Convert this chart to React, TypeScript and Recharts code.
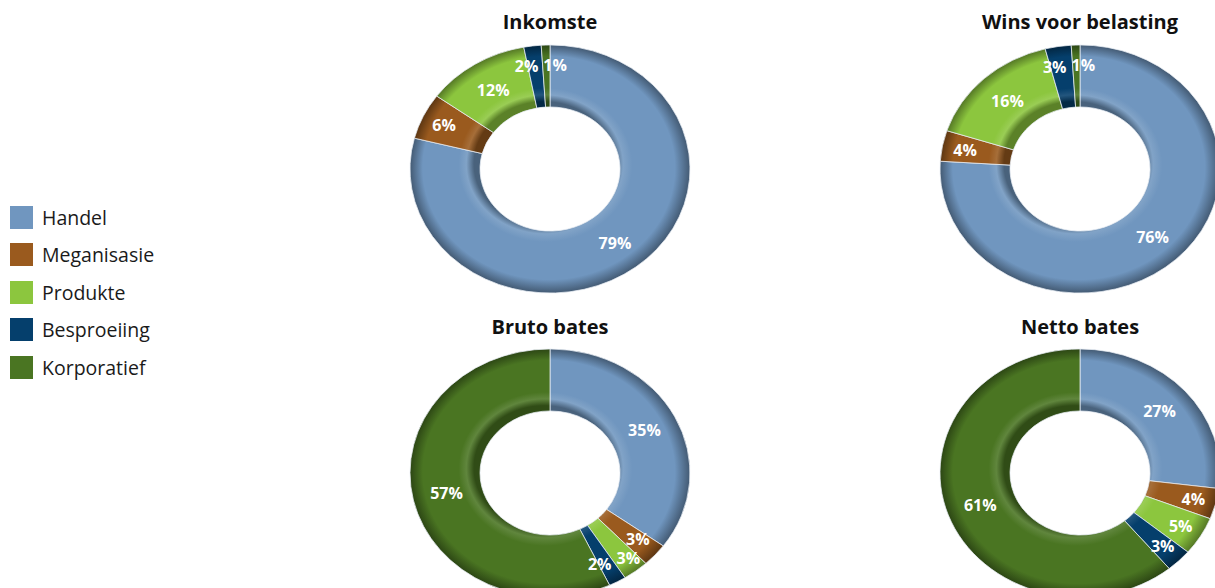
import React from "react";
import { PieChart, Pie, Cell } from "recharts";

const CATEGORIES = ["Handel", "Meganisasie", "Produkte", "Besproeiing", "Korporatief"];
const COLORS = ["#7096bf", "#9a5a1e", "#8cc63e", "#053f6c", "#4a7522"];

const TITLES = ["Inkomste", "Wins voor belasting", "Bruto bates", "Netto bates"];
const INKOMSTE = [79, 6, 12, 2, 1];
const WINS = [76, 4, 16, 3, 1];
const BRUTO = [35, 3, 3, 2, 57];
const NETTO = [27, 4, 5, 3, 61];

const SERIES = [INKOMSTE, WINS, BRUTO, NETTO];
// centres of the four donuts on the page
const CENTERS = [
  { x: 550, y: 169 },
  { x: 1080, y: 169 },
  { x: 550, y: 473 },
  { x: 1080, y: 473 },
];

const SIZE = 300;
const OUTER = 140;
const INNER = 70;
const SY = 0.886; // the donuts are slightly flattened
const RAD = Math.PI / 180;
const FONT = "'Open Sans', 'Noto Sans', sans-serif";
const LABEL_SIZE = 16;
const LABEL_H = 19;

const shade = (hex: string, f: number) => {
  const n = parseInt(hex.slice(1), 16);
  const ch = [(n >> 16) & 255, (n >> 8) & 255, n & 255].map((c) =>
    f < 0 ? Math.round(c * (1 + f)) : Math.round(c + (255 - c) * f)
  );
  return `rgb(${ch.join(",")})`;
};

// small slices get their label a bit further out
const labelRadius = (percent: number) => (percent < 0.07 ? 117 : 106);

// nudges (screen px) so that labels of neighbouring thin slices don't collide
const labelNudges = (values: number[]) => {
  const total = values.reduce((a, b) => a + b, 0);
  let acc = 0;
  const pos = values.map((v) => {
    const mid = 90 - ((acc + v / 2) / total) * 360;
    acc += v;
    const r = labelRadius(v / total);
    return {
      x: r * Math.cos(mid * RAD),
      y: -r * Math.sin(mid * RAD) * SY,
      w: `${v}%`.length * LABEL_SIZE * 0.8,
    };
  });
  const d = values.map(() => ({ x: 0, y: 0 }));
  for (let i = 0; i < pos.length - 1; i++) {
    const ax = pos[i].x + d[i].x;
    const ay = pos[i].y + d[i].y;
    const bx = pos[i + 1].x + d[i + 1].x;
    const by = pos[i + 1].y + d[i + 1].y;
    const needX = (pos[i].w + pos[i + 1].w) / 2 + 3;
    const defX = needX - Math.abs(ax - bx);
    const defY = LABEL_H - Math.abs(ay - by);
    if (defX > 0 && defY > 0) {
      if (Math.abs(ay - by) > LABEL_H / 2) {
        const dir = ay <= by ? 1 : -1;
        d[i].y -= (defY / 2) * dir;
        d[i + 1].y += (defY / 2) * dir;
      } else {
        const dir = ax <= bx ? 1 : -1;
        d[i].x -= (defX / 2) * dir;
        d[i + 1].x += (defX / 2) * dir;
      }
    }
  }
  return d;
};

const makeLabel = (nudges: { x: number; y: number }[]) => (p: any) => {
  const r = labelRadius(p.percent);
  const n = nudges[p.index] || { x: 0, y: 0 };
  const x = p.cx + r * Math.cos(-p.midAngle * RAD) + n.x;
  const y = p.cy + r * Math.sin(-p.midAngle * RAD) + n.y / SY;
  return (
    <text
      transform={`translate(${x},${y}) scale(1,${1 / SY})`}
      x={0}
      y={0}
      fill="#fff"
      textAnchor="middle"
      dominantBaseline="central"
      style={{ fontFamily: FONT, fontSize: LABEL_SIZE, fontWeight: 700 }}
    >
      {`${p.value}%`}
    </text>
  );
};

const Donut: React.FC<{ idx: number }> = ({ idx }) => {
  const values = SERIES[idx];
  const data = CATEGORIES.map((name, i) => ({ name, value: values[i] }));
  const c = CENTERS[idx];
  const nudges = labelNudges(values);
  return (
    <div
      style={{
        position: "absolute",
        left: c.x - SIZE / 2,
        top: c.y - SIZE / 2,
        width: SIZE,
        height: SIZE,
        transform: `scaleY(${SY})`,
        transformOrigin: "50% 50%",
      }}
    >
      <PieChart width={SIZE} height={SIZE} margin={{ top: 0, right: 0, bottom: 0, left: 0 }}>
        <defs>
          {COLORS.map((col, i) => (
            <radialGradient
              key={i}
              id={`g${idx}-${i}`}
              gradientUnits="userSpaceOnUse"
              cx={SIZE / 2}
              cy={SIZE / 2}
              r={OUTER}
              fx={SIZE / 2 - 12}
              fy={SIZE / 2 - 12}
            >
              <stop offset="0.5" stopColor={shade(col, -0.35)} />
              <stop offset="0.56" stopColor={shade(col, 0.12)} />
              <stop offset="0.62" stopColor={col} />
              <stop offset="0.9" stopColor={col} />
              <stop offset="1" stopColor={shade(col, -0.4)} />
            </radialGradient>
          ))}
        </defs>
        <Pie
          data={data}
          dataKey="value"
          nameKey="name"
          cx={SIZE / 2}
          cy={SIZE / 2}
          innerRadius={INNER}
          outerRadius={OUTER}
          startAngle={90}
          endAngle={-270}
          stroke="#e8eef4"
          strokeWidth={0.8}
          label={makeLabel(nudges)}
          labelLine={false}
          isAnimationActive={false}
        >
          {data.map((_, i) => (
            <Cell key={i} fill={`url(#g${idx}-${i})`} />
          ))}
        </Pie>
      </PieChart>
    </div>
  );
};

export default function App() {
  return (
    <div
      style={{
        position: "absolute",
        left: 0,
        top: 0,
        width: 1215,
        height: 588,
        overflow: "hidden",
        background: "#fff",
        fontFamily: FONT,
      }}
    >
      {CENTERS.map((_, i) => (
        <Donut key={i} idx={i} />
      ))}
      {TITLES.map((t, i) => (
        <div
          key={t}
          style={{
            position: "absolute",
            left: CENTERS[i].x - 150,
            width: 300,
            top: i < 2 ? 9 : 314,
            textAlign: "center",
            fontSize: 20,
            fontWeight: 700,
            color: "#111",
            lineHeight: "26px",
          }}
        >
          {t}
        </div>
      ))}
      {CATEGORIES.map((name, i) => (
        <div
          key={name}
          style={{
            position: "absolute",
            left: 10,
            top: 205 + i * 37.5,
            height: 24,
            display: "flex",
            alignItems: "center",
            fontSize: 19.5,
            color: "#1a1a1a",
          }}
        >
          <span
            style={{
              display: "inline-block",
              width: 23,
              height: 23,
              background: COLORS[i],
              marginRight: 9,
            }}
          />
          {name}
        </div>
      ))}
    </div>
  );
}
